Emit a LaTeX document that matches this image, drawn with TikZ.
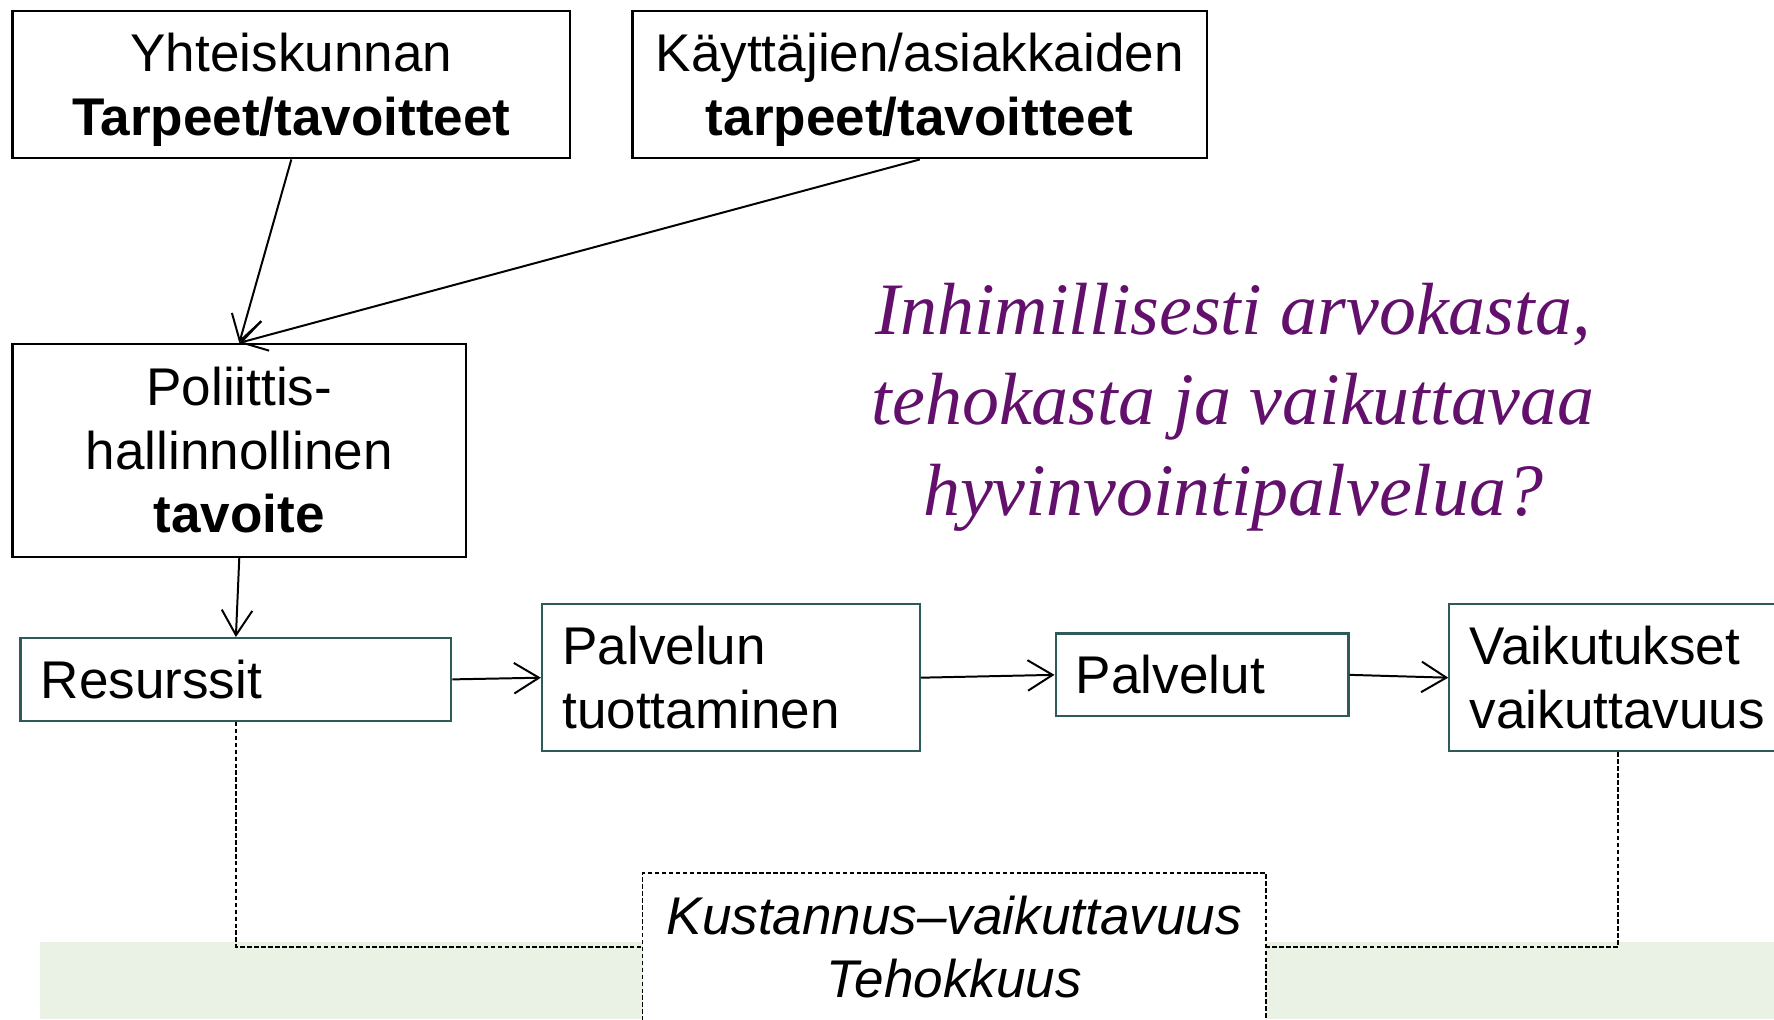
\documentclass[tikz,border=0pt]{standalone}
\usepackage{fontspec}
\setmainfont{Liberation Sans}
\newfontfamily\slogan{Liberation Serif}
\usetikzlibrary{arrows.meta}
\definecolor{phaseline}{RGB}{47,90,90}
\definecolor{band}{RGB}{234,241,229}
\definecolor{slogancol}{RGB}{98,16,108}

\begin{document}
\begin{tikzpicture}
  [x=0.02cm,y=-0.02cm,
   every node/.style={font=\fontsize{26.7}{31.9}\selectfont},
   goal/.style={draw,line width=1.1pt,align=center},
   phase/.style={draw=phaseline,line width=1.1pt,align=left,inner xsep=0.36cm,inner ysep=0pt},
   link/.style={line width=1pt,-{Straight Barb[length=0.44cm,width=0.54cm]}},
   guide/.style={line width=0.7pt,dash pattern=on 2.3pt off 1.2pt}]
  \useasboundingbox (0,0) rectangle (1568,901);
  \clip (0,0) rectangle (1568,901);
  \fill[band] (35,833) rectangle (1568,901);
  % needs and goal
  \node[goal,minimum width=9.86cm,minimum height=2.6cm] (soc) at (257.5,75) {\rule{0pt}{0.86cm}Yhteiskunnan\\\textbf{Tarpeet/tavoitteet}};
  \node[goal,minimum width=10.16cm,minimum height=2.6cm] (cust) at (813,75) {\rule{0pt}{0.86cm}Käyttäjien/asiakkaiden\\\textbf{tarpeet/tavoitteet}};
  \node[goal,minimum width=8.02cm,minimum height=3.76cm] (pol) at (211.5,398) {Poliittis-\\hallinnollinen\\\textbf{tavoite}};
  \node[text=slogancol,font=\slogan\itshape\fontsize{37.2}{45.5}\selectfont,align=center] (ask) at (1090,360) {Inhimillisesti arvokasta,\\tehokasta ja vaikuttavaa\\hyvinvointipalvelua?};
  % service chain
  \node[phase,text width=6.9cm,minimum height=1.46cm] (res) at (208.5,600.5) {Resurssit};
  \node[phase,text width=5.96cm,minimum height=2.6cm] (prod) at (646,599) {Palvelun\\tuottaminen};
  \node[phase,text width=4.46cm,minimum height=1.46cm] (serv) at (1062.5,596.5) {Palvelut};
  \node[phase,text width=5.24cm,minimum height=2.6cm] (eff) at (1430,599) {Vaikutukset\\vaikuttavuus};
  \foreach \from/\to in {soc.south/pol.north,cust.south/pol.north,pol.south/res.north,res.east/prod.west,prod.east/serv.west,serv.east/eff.west}
    \draw[link] (\from) -- (\to);
  % cost box
  \coordinate (cl) at (568,837);
  \coordinate (cr) at (1119,837);
  \draw[guide] (res.south) |- (cl);
  \draw[guide] (eff.south) |- (cr);
  \node[guide,draw,fill=white,anchor=north,minimum width=11.02cm,inner ysep=0.4cm,align=center,font=\itshape\fontsize{26.7}{31.9}\selectfont] (cost) at (843.5,771) {Kustannus–vaikuttavuus\\Tehokkuus};
\end{tikzpicture}
\end{document}
